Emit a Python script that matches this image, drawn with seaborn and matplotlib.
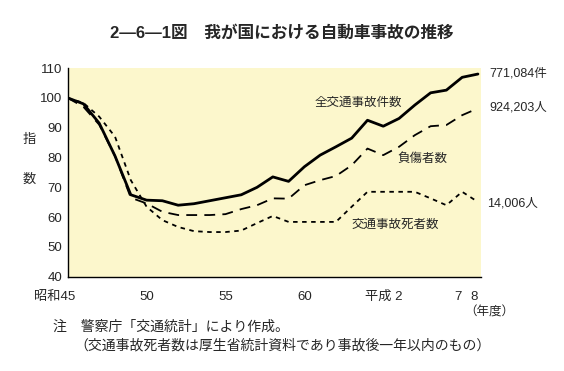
import numpy as np
import pandas as pd
import seaborn as sns
import matplotlib.pyplot as plt
from matplotlib.transforms import ScaledTranslation

years = list(range(1970, 1997))
accidents = [100, 98, 91.5, 80.5, 67.5, 65.7, 65.5, 64, 64.5, 65.5, 66.5, 67.5, 70, 73.5, 72,
             76.9, 80.8, 83.6, 86.5, 92.5, 90.5, 93.1, 97.6, 101.7, 102.6, 106.9, 108]
injuries = [100, 97, 91, 80.5, 66.5, 64.6, 61.8, 60.7, 60.7, 60.7, 61, 62.7, 64, 66.3, 66.2,
            70.7, 72.4, 73.8, 77.4, 83, 80.8, 83.6, 87.5, 90.5, 90.9, 94.2, 96.5]
deaths = [100, 98.3, 93.7, 87, 72.4, 63.5, 59, 56.7, 55.3, 55, 55, 55.5, 58, 60.4, 58.4,
          58.4, 58.4, 58.4, 63.5, 68.5, 68.5, 68.5, 68.5, 66.3, 64, 68.5, 65.1]

xticks = [1970, 1975, 1980, 1985, 1990, 1995, 1996]
xticklabels = ['昭和45', '50', '55', '60', '平成 2', '7', '8']
yticks = [40, 50, 60, 70, 80, 90, 100, 110]

df = pd.DataFrame({'year': years, 'acc': accidents, 'inj': injuries, 'dea': deaths})

sns.set_style('white')
plt.rcParams['font.family'] = ['Liberation Sans', 'Noto Sans CJK JP']

fig = plt.figure(figsize=(5.64, 3.71), dpi=100)
ax = fig.add_axes([0.120, 0.254, 0.733, 0.5625])
ax.set_facecolor('#fcf7cc')

sns.lineplot(data=df, x='year', y='acc', ax=ax, color='black', lw=2.0)
sns.lineplot(data=df, x='year', y='inj', ax=ax, color='black', lw=1.3,
             linestyle=(0, (6, 4)))
sns.lineplot(data=df, x='year', y='dea', ax=ax, color='black', lw=1.3,
             linestyle=(0, (2.5, 2.5)))

ax.set_xlim(1970, 1996.2)
ax.set_ylim(40, 110)
ax.set_xticks(xticks)
ax.set_xticklabels(xticklabels, fontsize=9.5)
ax.set_yticks(yticks)
ax.set_yticklabels([str(v) for v in yticks], fontsize=9.5)
ax.tick_params(direction='in', length=5, width=0.8, color='#333333', pad=4)
ax.tick_params(axis='x', pad=10)
for s in ['top', 'right']:
    ax.spines[s].set_visible(False)
for s in ['left', 'bottom']:
    ax.spines[s].set_color('black')
    ax.spines[s].set_linewidth(1.0)
ax.set_xlabel('')
ax.set_ylabel('')

# shift some tick labels sideways like the original
labs = ax.get_xticklabels()
for i, dx in [(0, -13), (5, -4), (6, -4)]:
    labs[i].set_transform(labs[i].get_transform() + ScaledTranslation(dx / 100, 0, fig.dpi_scale_trans))


def px(x, y):
    return x / 564, 1 - y / 371


fs = 9
fig.text(*px(358, 103), '全交通事故件数', fontsize=fs, ha='center', va='center')
fig.text(*px(422, 159), '負傷者数', fontsize=fs, ha='center', va='center')
fig.text(*px(395, 225), '交通事故死者数', fontsize=fs, ha='center', va='center')

fig.text(*px(489, 73), '771,084件', fontsize=fs, ha='left', va='center')
fig.text(*px(489, 108), '924,203人', fontsize=fs, ha='left', va='center')
fig.text(*px(487, 203), '14,006人', fontsize=fs, ha='left', va='center')

fig.text(*px(282, 33), '2―6―1図　我が国における自動車事故の推移', fontsize=12,
         fontweight='bold', ha='center', va='center')
fig.text(*px(29, 140), '指', fontsize=9.5, ha='center', va='center')
fig.text(*px(29, 180), '数', fontsize=9.5, ha='center', va='center')
fig.text(*px(489, 313), '（年度）', fontsize=9, ha='center', va='center')
fig.text(*px(53, 327), '注　警察庁「交通統計」により作成。', fontsize=10, ha='left', va='center')
fig.text(*px(74, 345), '（交通事故死者数は厚生省統計資料であり事故後一年以内のもの）',
         fontsize=10, ha='left', va='center')

fig.savefig('out.png', dpi=100, facecolor='white')
